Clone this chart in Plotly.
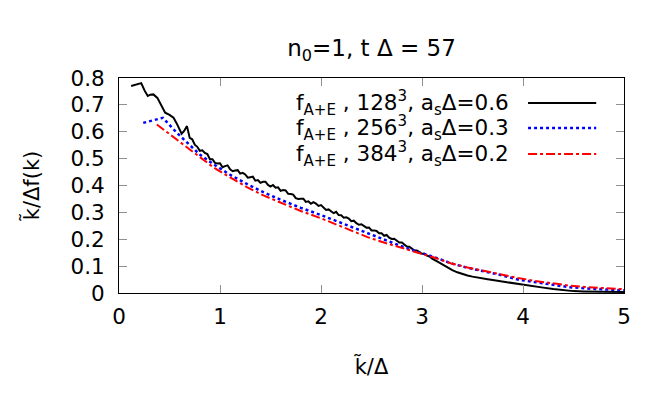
"""Momentum distribution k/Δ f(k) at n0=1, tΔ=57 for three lattice resolutions."""

import plotly.graph_objects as go

# --- data ------------------------------------------------------------------
k_128 = [0.12, 0.17, 0.22, 0.255, 0.285, 0.31, 0.34, 0.38, 0.42, 0.457,
         0.50, 0.54, 0.57, 0.60, 0.62, 0.645, 0.673,
         0.700, 0.725, 0.750, 0.775, 0.800, 0.825, 0.850, 0.875, 0.900, 0.925,
         0.950, 0.975, 1.000, 1.025, 1.050, 1.075, 1.100, 1.125, 1.150, 1.175,
         1.200, 1.225, 1.250, 1.275, 1.300, 1.325, 1.350, 1.375, 1.400, 1.425,
         1.450, 1.475, 1.500, 1.525, 1.550, 1.575, 1.600, 1.625, 1.650, 1.675,
         1.700, 1.725, 1.750, 1.775, 1.800, 1.825, 1.850, 1.875, 1.900, 1.925,
         1.950, 1.975, 2.000, 2.025, 2.050, 2.075, 2.100, 2.125, 2.150, 2.175,
         2.200, 2.225, 2.250, 2.275, 2.300, 2.325, 2.350, 2.375, 2.400, 2.425,
         2.450, 2.475, 2.500, 2.525, 2.550, 2.575, 2.600, 2.625, 2.650, 2.675,
         2.700, 2.725, 2.750, 2.775, 2.800, 2.825, 2.850, 2.875, 2.900, 2.925,
         2.950, 2.975, 3.000, 3.025, 3.050, 3.075, 3.100,
         3.15, 3.20, 3.25, 3.30, 3.35, 3.40, 3.45, 3.50, 3.55, 3.60,
         3.65, 3.70, 3.75, 3.80, 3.85, 3.90, 3.95, 4.00, 4.10, 4.20,
         4.30, 4.40, 4.50, 4.60, 4.70, 4.80, 4.90, 5.00]
f_128 = [0.770, 0.776, 0.781, 0.752, 0.733, 0.738, 0.739, 0.726, 0.700, 0.671,
         0.663, 0.652, 0.632, 0.612, 0.593, 0.603, 0.621,
         0.577, 0.572, 0.552, 0.544, 0.529, 0.531, 0.521, 0.517, 0.498, 0.498,
         0.484, 0.482, 0.483, 0.468, 0.472, 0.475, 0.460, 0.453, 0.456, 0.457,
         0.444, 0.447, 0.441, 0.429, 0.431, 0.433, 0.418, 0.420, 0.410, 0.414,
         0.414, 0.402, 0.396, 0.402, 0.392, 0.393, 0.380, 0.383, 0.382, 0.369,
         0.368, 0.366, 0.353, 0.350, 0.351, 0.351, 0.339, 0.341, 0.332, 0.338,
         0.333, 0.324, 0.327, 0.316, 0.309, 0.311, 0.305, 0.297, 0.302, 0.290,
         0.289, 0.280, 0.282, 0.277, 0.267, 0.269, 0.260, 0.254, 0.256, 0.250,
         0.243, 0.244, 0.233, 0.233, 0.231, 0.222, 0.222, 0.213, 0.216, 0.206,
         0.201, 0.202, 0.195, 0.188, 0.188, 0.179, 0.173, 0.172, 0.166, 0.158,
         0.158, 0.151, 0.146, 0.146, 0.139, 0.136, 0.128,
         0.118, 0.106, 0.095, 0.085, 0.077, 0.070, 0.065, 0.061, 0.057, 0.054,
         0.051, 0.048, 0.045, 0.042, 0.039, 0.036, 0.034, 0.032, 0.026, 0.020,
         0.015, 0.010, 0.007, 0.006, 0.005, 0.005, 0.004, 0.004]

k_256 = [0.24, 0.434, 0.573, 0.673, 0.80, 0.94, 1.10, 1.27, 1.43, 1.60,
         1.80, 2.00, 2.13, 2.30, 2.46, 2.63, 2.79, 2.96, 3.12, 3.29,
         3.45, 3.62, 3.78, 3.95, 4.12, 4.28, 4.45, 4.62, 4.78, 5.00]
f_256 = [0.633, 0.652, 0.596, 0.559, 0.515, 0.478, 0.440, 0.405, 0.375, 0.347,
         0.317, 0.290, 0.271, 0.245, 0.222, 0.198, 0.175, 0.152, 0.134, 0.110,
         0.094, 0.080, 0.067, 0.050, 0.040, 0.032, 0.022, 0.017, 0.013, 0.010]

k_384 = [0.375, 0.52, 0.673, 0.80, 0.94, 1.10, 1.27, 1.43, 1.60, 1.80,
         2.00, 2.13, 2.30, 2.46, 2.63, 2.79, 2.96, 3.12, 3.29, 3.45,
         3.62, 3.78, 3.95, 4.12, 4.28, 4.45, 4.62, 4.78, 5.00]
f_384 = [0.627, 0.585, 0.540, 0.505, 0.466, 0.430, 0.393, 0.363, 0.335, 0.305,
         0.278, 0.258, 0.232, 0.208, 0.187, 0.168, 0.150, 0.132, 0.110, 0.095,
         0.081, 0.068, 0.056, 0.045, 0.036, 0.028, 0.022, 0.018, 0.014]

x_ticks = [0, 1, 2, 3, 4, 5]
y_ticks = [0, 0.1, 0.2, 0.3, 0.4, 0.5, 0.6, 0.7, 0.8]
y_tick_text = ["0", "0.1", "0.2", "0.3", "0.4", "0.5", "0.6", "0.7", "0.8"]

labels = [
    "f<sub>A+E</sub> , 128<sup>3</sup>, a<sub>s</sub>Δ=0.6",
    "f<sub>A+E</sub> , 256<sup>3</sup>, a<sub>s</sub>Δ=0.3",
    "f<sub>A+E</sub> , 384<sup>3</sup>, a<sub>s</sub>Δ=0.2",
]

FONT = "DejaVu Sans"

series = [
    (k_128, f_128, dict(color="black", width=2, dash="solid")),
    (k_256, f_256, dict(color="#0000ff", width=2.5, dash="dot")),
    (k_384, f_384, dict(color="#ff0000", width=2, dash="dashdot")),
]

fig = go.Figure()
for x, y, line in series:
    fig.add_trace(go.Scatter(x=x, y=y, mode="lines", line=line, showlegend=False))

# gnuplot-style key: right-aligned text with the line sample to its right
key_rows = [0.884, 0.767, 0.646]
for label, (_, _, line), yk in zip(labels, series, key_rows):
    fig.add_annotation(
        x=0.776, y=yk, xref="paper", yref="paper", xanchor="right", yanchor="middle",
        text=label, showarrow=False, font=dict(family=FONT, size=21.5, color="black"),
    )
    fig.add_shape(
        type="line", xref="paper", yref="paper", x0=0.81, x1=0.945, y0=yk, y1=yk,
        line=line,
    )

axis_common = dict(
    showgrid=False,
    zeroline=False,
    showline=True,
    linecolor="black",
    linewidth=1,
    mirror="ticks",
    ticks="inside",
    ticklen=8,
    tickcolor="#909090",
    tickfont=dict(family=FONT, size=21.5, color="black"),
    automargin=False,
)

fig.update_xaxes(
    range=[0, 5], tickvals=x_ticks, ticklabelstandoff=4,
    title=dict(text="k̃/Δ", font=dict(family=FONT, size=21, color="black"), standoff=31),
    **axis_common,
)
fig.update_yaxes(
    range=[0, 0.8], tickvals=y_ticks, ticktext=y_tick_text, ticklabelstandoff=9,
    title=dict(text="k̃/Δf(k)", font=dict(family=FONT, size=21, color="black"), standoff=25),
    **axis_common,
)

# the page body adds an 8px offset, so the margins are pulled in to compensate
fig.update_layout(
    width=664,
    height=399,
    margin=dict(l=111, r=48, t=70, b=114),
    plot_bgcolor="white",
    paper_bgcolor="white",
    title=dict(
        text="n<sub>0</sub>=1, t Δ = 57", x=0.5, xref="paper", y=0.9, yanchor="middle",
        font=dict(family=FONT, size=23, color="black"),
    ),
)

fig.write_html("out.html")
